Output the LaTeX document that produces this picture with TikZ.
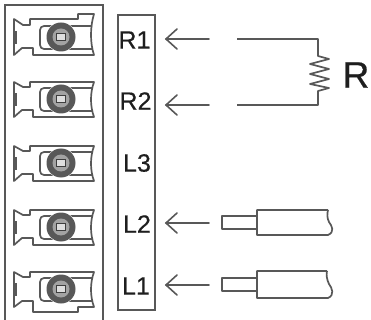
\documentclass[tikz,border=0pt]{standalone}
\usepackage{fontspec}
\setmainfont{Liberation Sans}
\newfontfamily\labfont[RawFeature={embolden=0.5}]{Liberation Sans}
\definecolor{ink}{HTML}{585858}
\definecolor{txt}{HTML}{1E1E1E}
\tikzset{
  box/.style={draw=ink,line width=2pt},
  wire/.style={draw=ink,line width=1.7pt,line join=round},
  thin line/.style={draw=ink,line width=1.7pt,line join=round},
  lab/.style={text=txt,font=\labfont\fontsize{25}{25}\selectfont,inner sep=0pt,anchor=center},
  arrowline/.style={draw=ink,line width=1.6pt,line cap=round},
}
\newcommand{\arrowto}[2]{% from coord #1 to tip coord #2
  \draw[arrowline] (#1) -- (#2);
  \draw[arrowline] ([shift={(11,-10)}]#2) -- (#2) -- ([shift={(11,10)}]#2);
}
\newcommand{\terminal}[3]{% cy, top tab, bottom tab (0/1)
  \begin{scope}[shift={(61,#1)}]
    \ifnum#2=1
      \draw[thin line] (-47,-18) -- (-38,-12) -- (-31,-12) -- (-31,-18) -- (17,-18) -- (17,-23) -- (33,-23) .. controls (29,-10) and (29,6) .. (33,18) -- (-28,18) -- (-28,11) -- (-39,11) -- (-47,18) -- cycle;
    \else\ifnum#3=1
      \draw[thin line] (-47,-17) -- (-38,-12) -- (-31,-12) -- (-31,-17) -- (33,-17) .. controls (29,-6) and (29,7) .. (33,18) -- (17,18) -- (17,23) -- (-28,23) -- (-28,12) -- (-39,12) -- (-47,18) -- cycle;
    \else
      \draw[thin line] (-47,-17) -- (-38,-12) -- (-31,-12) -- (-31,-17) -- (33,-17) .. controls (29,-6) and (29,7) .. (33,18) -- (-28,18) -- (-28,11) -- (-39,11) -- (-47,18) -- cycle;
    \fi\fi
    \fill[ink] (-48,-6) rectangle (-44,7);
    \draw[thin line,rounded corners=4pt] (31,-11) -- (-21,-11) -- (-21,12) -- (31,12);
    \fill[white] (0,0) circle (15);
    \fill[ink] (0,0) circle (14.5);
    \fill[ink!55] (0,0) circle (8.5);
    \draw[draw=ink!70!black,line width=1.4pt,fill=white!80!ink] (-4.5,-3.5) rectangle (4.5,3.5);
  \end{scope}
}
\begin{document}
\begin{tikzpicture}[x=1pt,y=-1pt]
\useasboundingbox (0,0) rectangle (371,320);
\fill[white] (0,0) rectangle (371,320);
\draw[box] (5,5.5) rectangle (103,322);
\draw[box] (118,15.5) rectangle (155,310);
\terminal{37}{1}{0}
\terminal{99}{0}{0}
\terminal{163}{0}{0}
\terminal{227}{0}{0}
\terminal{289}{0}{1}
\node[lab] (r1) at (134.5,40) {R1};
\node[lab] (r2) at (135.5,101) {R2};
\node[lab] (l3) at (137,163) {L3};
\node[lab] (l2) at (137,224) {L2};
\node[lab] (l1) at (136,286) {L1};
\node[text=txt,font=\labfont\fontsize{37}{37}\selectfont,inner sep=0pt] (rr) at (356,75) {R};
\coordinate (t1) at (166,39); \coordinate (s1) at (209,39);
\coordinate (t2) at (166,105); \coordinate (s2) at (209,105);
\coordinate (t3) at (166,223); \coordinate (s3) at (209,223);
\coordinate (t4) at (166,285); \coordinate (s4) at (209,285);
\arrowto{s1}{t1}
\arrowto{s2}{t2}
\arrowto{s3}{t3}
\arrowto{s4}{t4}
\coordinate (w1) at (237,39); \coordinate (w2) at (237,105);
\draw[wire] (w1) -- (318,39) -- (318,56) -- (329,59) -- (310,64) -- (329,69) -- (310,74) -- (329,79) -- (310,84) -- (329,88) -- (318,91) -- (318,105) -- (w2);
\draw[thin line] (257,216) -- (222,216) -- (222,229) -- (257,229);
\draw[thin line] (328,210) -- (257,210) -- (257,235) -- (328,235) .. controls (335,232) and (332,226) .. (329,222) .. controls (327,218) and (327,214) .. (328,210);
\draw[thin line] (257,278) -- (222,278) -- (222,291) -- (257,291);
\draw[thin line] (327,271) -- (257,271) -- (257,298) -- (328,298) .. controls (335,295) and (332,288) .. (329,284) .. controls (327,280) and (326,275) .. (327,271);
\end{tikzpicture}
\end{document}
